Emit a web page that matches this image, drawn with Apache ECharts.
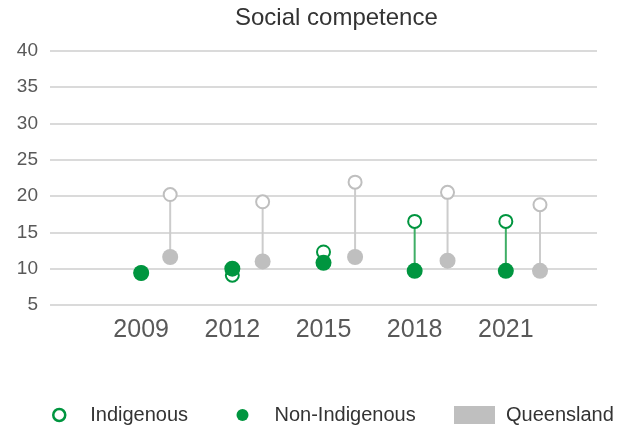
<!DOCTYPE html>
<html>
<head>
<meta charset="utf-8">
<script src="https://cdn.jsdelivr.net/npm/echarts@6/dist/echarts.min.js"></script>
<style>
html,body{margin:0;padding:0;background:#fff;}
#c{width:618px;height:430px;}
</style>
</head>
<body>
<div id="c"></div>
<script>
const titleText = 'Social competence';
const years = [2009, 2012, 2015, 2018, 2021];
const yTicks = [5, 10, 15, 20, 25, 30, 35, 40];
const indigenous = [9.4, 9.1, 12.3, 16.5, 16.5];
const nonIndigenous = [9.4, 10.0, 10.8, 9.7, 9.7];
const qldIndigenous = [20.2, 19.2, 21.9, 20.5, 18.8];
const qldNonIndigenous = [11.6, 11.0, 11.6, 11.1, 9.7];

const GREEN = '#00953f';
const GREEN_STEM = '#3fae66';
const GREY = '#bfbfbf';
const GREY_STEM = '#cccccc';

const greenX = years;
const greyX = years.map(y => y + 1);

function pts(xs, vs) { return xs.map((x, i) => [x, vs[i]]); }
function stems(xs, a, b) { return xs.map((x, i) => [x, a[i], b[i]]); }

function stemRenderer(color) {
  return function (params, api) {
    const x = api.value(0);
    const p1 = api.coord([x, api.value(1)]);
    const p2 = api.coord([x, api.value(2)]);
    return {
      type: 'line',
      shape: { x1: p1[0], y1: p1[1], x2: p2[0], y2: p2[1] },
      style: { stroke: color, lineWidth: 2 }
    };
  };
}

const chart = echarts.init(document.getElementById('c'), null, { renderer: 'canvas' });
const FONT = 'Liberation Sans, Arial, sans-serif';

const option = {
  animation: false,
  backgroundColor: '#ffffff',
  title: {
    text: titleText,
    left: 230,
    top: 1,
    textStyle: { fontFamily: FONT, fontSize: 24, fontWeight: 'normal', color: '#333333' }
  },
  grid: { left: 50, right: 21, top: 50.6, bottom: 125, containLabel: false },
  legend: [
    {
      left: 52, top: 405, padding: 0, itemWidth: 12, itemHeight: 12, selectedMode: false,
      data: [{ name: 'Indigenous', icon: 'circle', itemStyle: { color: '#ffffff', borderColor: GREEN, borderWidth: 2.5 } }],
      textStyle: { fontFamily: FONT, fontSize: 20, color: '#333333', lineHeight: 20, padding: [0, 0, 0, 20] }
    },
    {
      left: 236.5, top: 405, padding: 0, itemWidth: 12, itemHeight: 12, selectedMode: false,
      data: [{ name: 'Non-Indigenous', icon: 'circle', itemStyle: { color: GREEN, borderWidth: 0 } }],
      textStyle: { fontFamily: FONT, fontSize: 20, color: '#333333', lineHeight: 20, padding: [0, 0, 0, 21] }
    },
    {
      left: 454, top: 405, padding: 0, itemWidth: 41, itemHeight: 18, selectedMode: false,
      data: [{ name: 'Queensland', icon: 'rect', itemStyle: { color: GREY, borderWidth: 0 } }],
      textStyle: { fontFamily: FONT, fontSize: 20, color: '#333333', lineHeight: 20, padding: [0, 0, 0, 6] }
    }
  ],
  xAxis: [
    {
      type: 'value', min: 2006, max: 2024, interval: 3,
      axisLine: { show: false }, axisTick: { show: false }, splitLine: { show: false },
      axisLabel: {
        margin: 13, fontFamily: FONT, fontSize: 25, color: '#595959',
        formatter: v => (years.indexOf(v) >= 0 ? String(v) : '')
      }
    },
    {
      type: 'value', min: 2006.1, max: 2023.85, show: false
    }
  ],
  yAxis: {
    type: 'value', min: yTicks[0], max: yTicks[yTicks.length - 1], interval: 5,
    axisLine: { show: false }, axisTick: { show: false },
    splitLine: { show: true, lineStyle: { color: '#dadada', width: 2 } },
    axisLabel: { margin: 12, fontFamily: FONT, fontSize: 19, color: '#595959' }
  },
  series: [
    {
      type: 'custom', name: 'Indigenous', xAxisIndex: 0, z: 1, silent: true,
      renderItem: stemRenderer(GREEN_STEM),
      encode: { x: 0, y: [1, 2] },
      data: stems(greenX, indigenous, nonIndigenous)
    },
    {
      type: 'custom', name: 'Queensland', xAxisIndex: 1, z: 1, silent: true,
      renderItem: stemRenderer(GREY_STEM),
      encode: { x: 0, y: [1, 2] },
      data: stems(greyX, qldIndigenous, qldNonIndigenous)
    },
    {
      type: 'scatter', name: 'Indigenous', xAxisIndex: 0, z: 3, symbol: 'circle', symbolSize: 13,
      itemStyle: { color: '#ffffff', borderColor: GREEN, borderWidth: 2, opacity: 1 },
      data: pts(greenX, indigenous)
    },
    {
      type: 'scatter', name: 'Non-Indigenous', xAxisIndex: 0, z: 4, symbol: 'circle', symbolSize: 16,
      itemStyle: { color: GREEN, opacity: 1 },
      data: pts(greenX, nonIndigenous)
    },
    {
      type: 'scatter', name: 'Queensland', xAxisIndex: 1, z: 3, symbol: 'circle', symbolSize: 13,
      itemStyle: { color: '#ffffff', borderColor: GREY, borderWidth: 2, opacity: 1 },
      data: pts(greyX, qldIndigenous)
    },
    {
      type: 'scatter', name: 'Queensland', xAxisIndex: 1, z: 4, symbol: 'circle', symbolSize: 16,
      itemStyle: { color: GREY, opacity: 1 },
      data: pts(greyX, qldNonIndigenous)
    }
  ]
};
chart.setOption(option);
</script>
</body>
</html>
